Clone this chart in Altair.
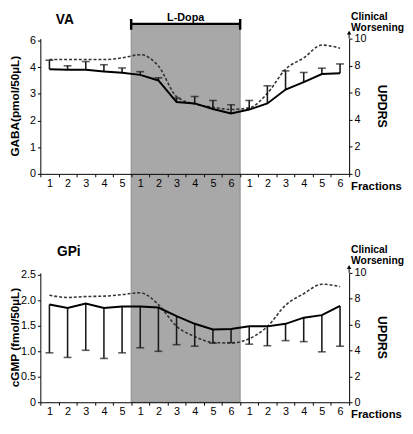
import altair as alt
import pandas as pd

# ---------------- data ----------------
phase_keys = ["B1", "B2", "B3", "B4", "B5",
              "L1", "L2", "L3", "L4", "L5", "L6",
              "P1", "P2", "P3", "P4", "P5", "P6"]

va_gaba = [3.92, 3.90, 3.90, 3.84, 3.79, 3.71, 3.50, 2.69, 2.64,
           2.43, 2.26, 2.41, 2.64, 3.16, 3.44, 3.74, 3.77]
va_gaba_upper = [4.26, 4.05, 4.21, 4.09, 3.97, 3.83, 3.60, 2.84, 2.90,
                 2.75, 2.59, 2.75, 3.30, 3.86, 3.80, 3.96, 4.12]
va_updrs = [8.45, 8.45, 8.45, 8.45, 8.57, 8.81, 7.97, 5.71, 5.16,
            4.93, 4.76, 4.88, 5.95, 7.74, 8.57, 9.52, 9.29]

gpi_cgmp = [1.92, 1.85, 1.94, 1.85, 1.88, 1.88, 1.86, 1.69, 1.54,
            1.43, 1.44, 1.49, 1.49, 1.54, 1.66, 1.71, 1.89]
gpi_cgmp_lower = [0.97, 0.88, 1.02, 0.86, 0.97, 1.07, 1.00, 1.13, 1.10,
                  1.16, 1.17, 1.14, 1.11, 1.21, 1.19, 0.99, 1.10]
gpi_updrs = [8.27, 8.10, 8.17, 8.20, 8.32, 8.46, 7.55, 5.87, 5.08,
             4.62, 4.58, 4.91, 5.85, 7.50, 8.39, 9.12, 8.94]

ldopa_span = {"start": ["L1"], "end": ["L6"], "mid": ["L3"], "label": ["L-Dopa"]}

FONT = "Liberation Sans"
W = 315
H1 = 138
H2 = 132
GAP = 101
SHADE = "#a8a8a8"

va_df = pd.DataFrame({"key": phase_keys, "val": va_gaba, "err": va_gaba_upper, "updrs": va_updrs})
gpi_df = pd.DataFrame({"key": phase_keys, "val": gpi_cgmp, "err": gpi_cgmp_lower, "updrs": gpi_updrs})
span_df = pd.DataFrame(ldopa_span)

xscale = alt.Scale(type="band", domain=phase_keys, paddingInner=0, paddingOuter=0)
xaxis = alt.Axis(title=None, labelExpr="substring(datum.label, 1, 2)", labelAngle=0,
                 tickBand="extent", tickSize=3, labelPadding=1, zindex=1,
                 labelFontSize=11, labelFont=FONT, labelColor="black",
                 domainColor="black", tickColor="black", labelBaseline="top")


def xenc(field="key", band=None):
    if band is None:
        return alt.X(f"{field}:O", scale=xscale, axis=xaxis)
    return alt.X(f"{field}:O", scale=xscale, axis=xaxis, bandPosition=band)


def label(text, x, y, size=12, angle=0, align="center", baseline="middle", **kw):
    return alt.Chart(pd.DataFrame({"t": [text]})).mark_text(
        font=FONT, fontSize=size, fontWeight="bold", color="black", align=align,
        baseline=baseline, angle=angle, **kw
    ).encode(x=alt.value(x), y=alt.value(y), text="t:N")


def panel(df, h, ydomain, yvalues, ylabel_expr, ytitle, title, with_shade,
          with_bracket, clin_top, title_x, title_y):
    base = alt.Chart(df)

    yleft = alt.Scale(domain=ydomain, nice=False, zero=True)
    left_axis = alt.Axis(orient="left", values=yvalues, labelExpr=ylabel_expr, title=None,
                         tickSize=3, labelPadding=2, grid=False,
                         domainColor="black", tickColor="black", labelColor="black",
                         labelFont=FONT, labelFontSize=11)
    right_axis = alt.Axis(orient="right", values=[0, 2, 4, 6, 8, 10], title=None,
                          tickSize=3, labelPadding=2, grid=False,
                          domainColor="black", tickColor="black", labelColor="black",
                          labelFont=FONT, labelFontSize=11)

    dashed = base.mark_line(color="#333333", strokeWidth=1.6, strokeDash=[3, 2],
                            interpolate="monotone").encode(
        x=xenc(), y=alt.Y("updrs:Q", scale=alt.Scale(domain=[0, 10], nice=False), axis=right_axis))

    err = base.mark_rule(color="#1a1a1a", strokeWidth=1.6).encode(
        x=xenc(), y=alt.Y("val:Q", scale=yleft, axis=left_axis), y2="err:Q")
    caps = base.mark_tick(color="#1a1a1a", size=8, thickness=1.6).encode(
        x=xenc(), y=alt.Y("err:Q", scale=yleft, axis=left_axis))
    solid = base.mark_line(color="black", strokeWidth=2).encode(
        x=xenc(), y=alt.Y("val:Q", scale=yleft, axis=left_axis))
    left_group = alt.layer(err, caps, solid)

    ttl = label(title, title_x, title_y, size=14)
    ylab = label(ytitle, -26, h / 2, size=12, angle=270)
    rlab = label("UPDRS", W + 33, h / 2, size=12.5, angle=90)
    frac = label("Fractions", W + 2, h + 13, size=11.5, align="left")
    clin = label("Clinical\nWorsening", W + 2, clin_top, size=10.5, align="left",
                 baseline="top", lineBreak="\n", lineHeight=10.5)
    arrow_line = alt.Chart(pd.DataFrame({"a": [0]})).mark_rule(color="black", strokeWidth=1).encode(
        x=alt.value(W), y=alt.value(0), y2=alt.value(-5))
    arrow = alt.Chart(pd.DataFrame({"a": [0]})).mark_point(
        shape="triangle-up", filled=True, size=20, color="black", opacity=1).encode(
        x=alt.value(W), y=alt.value(-6))

    layers = []
    if with_shade:
        # one grey band reaching from the bracket down to the lower panel's axis
        shade = alt.Chart(span_df).mark_rect(color=SHADE, stroke="#8c8c8c", strokeWidth=1).encode(
            x=xenc("start", 0), x2=alt.X2("end", bandPosition=1),
            y=alt.value(-13), y2=alt.value(H1 + GAP + H2))
        layers.append(shade)
    layers += [dashed, left_group, ttl, ylab, rlab, frac, clin, arrow_line, arrow]
    if with_bracket:
        bracket = alt.Chart(span_df).mark_rule(color="black", strokeWidth=2.5).encode(
            x=xenc("start", 0), x2=alt.X2("end", bandPosition=1), y=alt.value(-15))
        bl = alt.Chart(span_df).mark_rule(color="black", strokeWidth=2.5).encode(
            x=xenc("start", 0), y=alt.value(-20), y2=alt.value(-9))
        br = alt.Chart(span_df).mark_rule(color="black", strokeWidth=2.5).encode(
            x=xenc("end", 1), y=alt.value(-20), y2=alt.value(-9))
        lab = alt.Chart(span_df).mark_text(
            font=FONT, fontSize=11, fontWeight="bold", color="black", align="center", baseline="middle"
        ).encode(x=xenc("mid", 1), y=alt.value(-21), text="label:N")
        layers += [bracket, bl, br, lab]

    return alt.layer(*layers).resolve_scale(y="independent").properties(width=W, height=h)


top = panel(va_df, H1, [0, 5.07], [0, 1, 2, 3, 4, 5],
            "datum.value == 5 ? '6' : datum.label", "GABA(pmol/50µL)", "VA",
            True, True, -26.5, 25, -19)
bottom = panel(gpi_df, H2, [0, 2.54], [0, 0.5, 1.0, 1.5, 2.0, 2.5],
               "datum.value == 0 ? '0' : format(datum.value, '.1f')", "cGMP (fmol/50µL)", "GPi",
               False, False, -28, 29, -21)

chart = alt.vconcat(top, bottom, spacing=GAP, bounds="flush").properties(
    padding=0
).configure(background="white").configure_view(stroke=None)

chart.save("out.html", embed_options={"renderer": "svg", "actions": False})
